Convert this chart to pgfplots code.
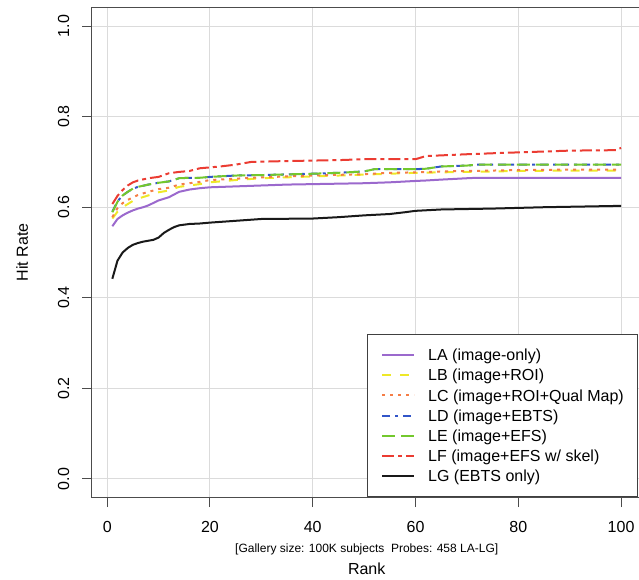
\documentclass[border=0pt]{standalone}
\usepackage{fontspec}
\setmainfont{Liberation Sans}
\usepackage{pgfplots}
\pgfplotsset{compat=1.18}
\definecolor{cLA}{RGB}{155,105,205}
\definecolor{cLB}{RGB}{238,232,40}
\definecolor{cLC}{RGB}{245,125,70}
\definecolor{cLD}{RGB}{50,85,200}
\definecolor{cLE}{RGB}{115,200,45}
\definecolor{cLF}{RGB}{235,60,50}
\definecolor{cLG}{RGB}{25,25,25}
\begin{document}
\begin{tikzpicture}
\begin{axis}[
  name=ax, at={(0,0)}, anchor=south west,
  scale only axis, width=549.4bp, height=489bp,
  xmin=-2.96, xmax=103.96, ymin=-0.04, ymax=1.04,
  xtick={0,20,40,60,80,100}, ytick={0,0.2,0.4,0.6,0.8,1.0},
  xticklabels={0,20,40,60,80,100},
  yticklabels={0.0,0.2,0.4,0.6,0.8,1.0},
  xtick pos=bottom, ytick pos=left,
  grid=major, major grid style={draw=black!14, line width=1bp},
  axis line style={draw=black!70, line width=1bp},
  tick style={draw=black!70, line width=1bp},
  tick align=outside, major tick length=10bp,
  tick label style={font=\fontsize{16bp}{19bp}\selectfont},
  xticklabel style={anchor=base, inner sep=0pt, yshift=-25bp},
  yticklabel style={xshift=-13bp, rotate=90, anchor=base, inner sep=0pt},
  xlabel={Rank}, ylabel={Hit Rate},
  every axis x label/.style={at={(axis description cs:0.5,-0.1575)}, anchor=base, font=\fontsize{16bp}{19bp}\selectfont},
  every axis y label/.style={at={(axis description cs:-0.1165,0.5)}, anchor=base, rotate=90, font=\fontsize{16bp}{19bp}\selectfont},
  legend style={at={(axis cs:50.5,-0.04)}, anchor=south west, draw=black!75, line width=1bp,
    inner xsep=14bp, inner ysep=10.3bp, row sep=0pt,
    font=\fontsize{16bp}{19bp}\selectfont,
    nodes={inner sep=0pt, text height=15.8bp, text depth=4.4bp},
    /tikz/every odd column/.append style={column sep=13bp}},
  legend cell align=left,
  legend image code/.code={\draw[#1] (0bp,0bp) -- (32bp,0bp);},
  every axis plot/.append style={line width=2bp},
]
\addplot[cLA, solid] coordinates {(1,0.558)(2,0.574)(3,0.582)(4,0.588)(5,0.593)(6,0.597)(7,0.600)(8,0.604)(10,0.615)(12,0.622)(14,0.634)(16,0.639)(18,0.642)(20,0.644)(25,0.646)(30,0.648)(35,0.650)(40,0.651)(45,0.652)(50,0.653)(55,0.655)(60,0.658)(62,0.659)(65,0.661)(70,0.664)(72,0.665)(80,0.665)(90,0.665)(100,0.665)};
\addlegendentry{LA (image-only)}
\addplot[cLB, dash pattern=on 9bp off 9bp] coordinates {(1,0.575)(2,0.590)(3,0.600)(4,0.607)(5,0.614)(6,0.619)(8,0.626)(10,0.633)(12,0.637)(14,0.645)(16,0.648)(18,0.651)(20,0.655)(25,0.660)(30,0.664)(35,0.666)(40,0.668)(50,0.672)(55,0.674)(60,0.676)(65,0.677)(70,0.678)(80,0.680)(90,0.681)(100,0.681)};
\addlegendentry{LB (image+ROI)}
\addplot[cLC, dash pattern=on 3bp off 5bp] coordinates {(1,0.578)(2,0.598)(3,0.609)(4,0.616)(5,0.622)(6,0.627)(8,0.634)(10,0.640)(12,0.643)(14,0.650)(16,0.653)(18,0.656)(20,0.660)(25,0.663)(30,0.666)(35,0.668)(40,0.670)(50,0.673)(55,0.676)(60,0.677)(65,0.679)(70,0.680)(80,0.682)(90,0.683)(100,0.683)};
\addlegendentry{LC (image+ROI+Qual Map)}
\addplot[cLD, dash pattern=on 8bp off 5bp on 3bp off 5bp] coordinates {(1,0.590)(2,0.613)(3,0.626)(4,0.634)(5,0.641)(6,0.645)(8,0.650)(10,0.654)(12,0.657)(14,0.664)(16,0.665)(18,0.665)(20,0.667)(25,0.670)(30,0.671)(40,0.674)(45,0.676)(50,0.679)(52,0.684)(60,0.684)(62,0.685)(65,0.690)(70,0.692)(72,0.694)(100,0.694)};
\addlegendentry{LD (image+EBTS)}
\addplot[cLE, dash pattern=on 13bp off 6bp] coordinates {(1,0.589)(2,0.612)(3,0.626)(4,0.634)(5,0.641)(6,0.645)(8,0.650)(10,0.654)(12,0.657)(14,0.664)(16,0.665)(18,0.665)(20,0.667)(25,0.670)(30,0.671)(40,0.674)(45,0.676)(50,0.679)(52,0.684)(60,0.684)(62,0.685)(65,0.690)(70,0.692)(72,0.694)(100,0.694)};
\addlegendentry{LE (image+EFS)}
\addplot[cLF, dash pattern=on 12bp off 4bp on 4bp off 4bp] coordinates {(1,0.607)(2,0.625)(3,0.638)(4,0.648)(5,0.655)(6,0.659)(8,0.664)(10,0.667)(12,0.675)(14,0.678)(16,0.680)(18,0.686)(20,0.688)(22,0.690)(25,0.694)(28,0.700)(35,0.702)(40,0.703)(45,0.704)(50,0.706)(60,0.706)(62,0.713)(70,0.717)(77,0.720)(85,0.723)(90,0.725)(99,0.726)(100,0.731)};
\addlegendentry{LF (image+EFS w/ skel)}
\addplot[cLG, solid] coordinates {(1,0.442)(2,0.482)(3,0.500)(4,0.510)(5,0.517)(6,0.521)(7,0.524)(8,0.526)(9,0.528)(10,0.533)(11,0.543)(12,0.550)(13,0.556)(14,0.560)(16,0.563)(18,0.564)(20,0.566)(25,0.570)(30,0.574)(40,0.575)(45,0.578)(50,0.582)(55,0.585)(58,0.589)(60,0.592)(65,0.595)(75,0.597)(85,0.600)(95,0.602)(100,0.603)};
\addlegendentry{LG (EBTS only)}
\end{axis}
\node[anchor=base, font=\fontsize{12bp}{14bp}\selectfont] at (274.7bp,-55bp) {[Gallery size: 100K subjects\ \ Probes: 458 LA-LG]};
\pgfresetboundingbox
\useasboundingbox (-92bp,-83bp) rectangle (547bp,497bp);
\end{tikzpicture}
\end{document}
